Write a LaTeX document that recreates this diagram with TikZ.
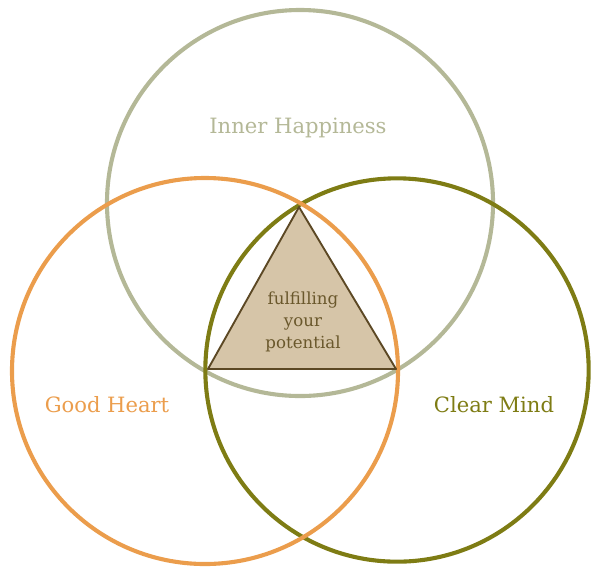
\documentclass[tikz,border=0pt]{standalone}
\usepackage{fontspec}
\setmainfont{DejaVu Serif}
\usepackage{xcolor}
\usepackage{tikz}
\usetikzlibrary{positioning}
\definecolor{happycol}{HTML}{B4B897}
\definecolor{heartcol}{HTML}{EB9D4C}
\definecolor{mindcol}{HTML}{7E7C14}
\definecolor{trifill}{HTML}{D6C5A8}
\definecolor{triline}{HTML}{5C4824}
\definecolor{tritext}{HTML}{6A582C}

\begin{document}
\begin{tikzpicture}[
  x=0.03cm, y=-0.03cm,
  ring/.style={draw, circle, line width=3.5pt, minimum size=11.58cm, inner sep=0pt},
  label/.style={font=\fontsize{18}{20}\selectfont, inner sep=0pt, anchor=base},
  core/.style={draw=triline, fill=trifill, line width=1.6pt, line join=round}
]
  \useasboundingbox (0,0) rectangle (600,576);

  \node[ring, draw=happycol] (happy) at (300,203) {};
  \node[ring, draw=mindcol, minimum size=11.5cm] (mind) at (397,370) {};
  \node[ring, draw=heartcol] (heart) at (205,371) {};

  \coordinate (apex) at (299,207);
  \coordinate (baseL) at (208,369);
  \coordinate (baseR) at (396,369);
  \draw[core] (apex) -- (baseL) -- (baseR) -- cycle;

  \node[align=center, text=tritext, font=\fontsize{14.2}{19}\selectfont] (goal) at (303,322) {fulfilling\\your\\potential};

  \node[label, text=happycol] (happytxt) at (298,133) {Inner Happiness};
  \node[label, text=heartcol] (hearttxt) at (107,412) {Good Heart};
  \node[label, text=mindcol] (mindtxt) at (494,412) {Clear Mind};
\end{tikzpicture}
\end{document}
